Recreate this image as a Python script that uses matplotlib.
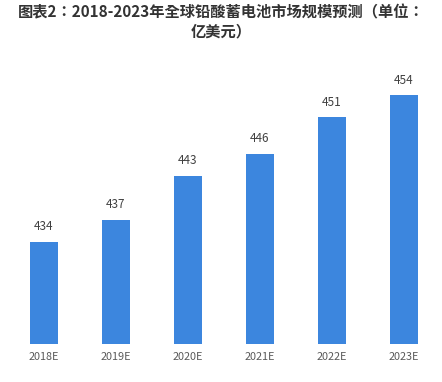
import matplotlib
matplotlib.use("Agg")
import matplotlib.pyplot as plt

plt.rcParams["font.family"] = ["Noto Sans CJK SC", "DejaVu Sans"]

YEARS = ["2018E", "2019E", "2020E", "2021E", "2022E", "2023E"]
VALUES = [434, 437, 443, 446, 451, 454]
TITLE = "图表2：2018-2023年全球铅酸蓄电池市场规模预测（单位：\n亿美元）"

W, H = 442, 382
fig = plt.figure(figsize=(W / 100, H / 100), dpi=100)

# axes placed in pixel terms: bars sit on y=344, category spacing 72px
ax_top = 60
ax = fig.add_axes([8 / W, (H - 344) / H, 432 / W, (344 - ax_top) / H])
px_per_unit = 7.315
ymin = 420
ax.set_ylim(ymin, ymin + (344 - ax_top) / px_per_unit)
ax.set_xlim(-0.5, len(YEARS) - 0.5)

x = range(len(YEARS))
bars = ax.bar(x, [v - ymin for v in VALUES], bottom=ymin, width=0.39, color="#3C86DE")
for b, v in zip(bars, VALUES):
    ax.annotate(str(v), (b.get_x() + b.get_width() / 2, v), xytext=(0, 6),
                textcoords="offset points", ha="center", va="bottom",
                fontsize=8.5, color="#404040")

ax.set_xticks(list(x))
ax.set_xticklabels(YEARS, fontsize=7.8, color="#595959")
ax.tick_params(axis="x", length=0, pad=6)
ax.set_yticks([])
for s in ax.spines.values():
    s.set_visible(False)

fig.text(0.5, 1 - 4 / H, TITLE, ha="center", va="top", fontsize=11,
         fontweight="bold", color="#333333", linespacing=1.25,
         family=["Noto Sans CJK TC", "DejaVu Sans"])

fig.savefig("out.png", dpi=100)
